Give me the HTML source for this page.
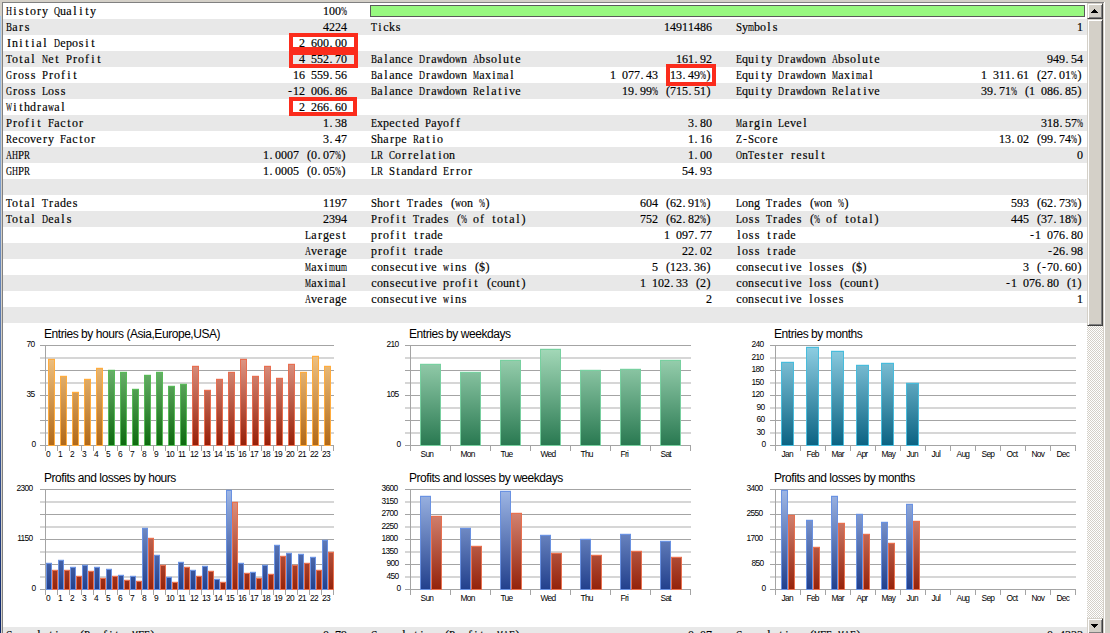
<!DOCTYPE html><html><head><meta charset="utf-8"><style>
*{margin:0;padding:0;box-sizing:border-box}
html,body{width:1110px;height:633px;overflow:hidden;background:#d4d0c8}
body{position:relative;font-family:"Liberation Sans",sans-serif}
#left{position:absolute;left:0;top:16px;width:1px;height:617px;background:linear-gradient(#a6caf0,#0a246a)}
#ftop{position:absolute;left:2px;top:2px;width:1102px;height:1px;background:#808080}
#fleft{position:absolute;left:2px;top:2px;width:1px;height:631px;background:#808080}
#fright{position:absolute;left:1104px;top:2px;width:1px;height:631px;background:#fff}
#content{position:absolute;left:3px;top:3px;width:1084px;height:630px;background:#fff;overflow:hidden}
.r{position:absolute;left:0;width:1084px;height:16px}
.t{position:absolute;top:0px;height:16px;line-height:16px;white-space:nowrap;font-family:"Liberation Serif",serif;font-size:12px;color:#000;-webkit-text-stroke:0.17px #000}
.t b{display:inline-block;width:6px;text-align:center;font-weight:normal;vertical-align:top;height:16px}
.t b.w{text-align:left;transform-origin:0 0}
.t b.rt{text-align:right}
.t b.lt{text-align:left;text-indent:0.5px}
.ch{position:absolute;left:0;top:0}
.ch text{font-family:"Liberation Sans",sans-serif;fill:#000}
.ch text.tt{letter-spacing:-0.45px}
.ch text.yl{letter-spacing:-0.7px}
#green{position:absolute;left:370px;top:5px;width:715px;height:12px;background:#98f880;border:1px solid #5a5a5a}
.box{position:absolute;border:4px solid #fb2c1c}
#sb{position:absolute;left:1087px;top:3px;width:16px;height:630px;background:repeating-conic-gradient(#d4d0c8 0 25%,#fff 0 50%) 0 1px/2px 2px}
.btn{position:absolute;left:0;width:16px;height:16px;background:#d4d0c8;border-top:1px solid #d4d0c8;border-left:1px solid #d4d0c8;border-right:1px solid #404040;border-bottom:1px solid #404040;box-shadow:inset 1px 1px 0 #fff,inset -1px -1px 0 #808080}
.t b.w0{text-align:left;transform-origin:0 0;transform:scaleX(0.692)}.t b.w1{text-align:left;transform-origin:0 0;transform:scaleX(0.6)}.t b.w2{text-align:left;transform-origin:0 0;transform:scaleX(0.749)}.t b.w3{text-align:left;transform-origin:0 0;transform:scaleX(0.817)}.t b.w4{text-align:left;transform-origin:0 0;transform:scaleX(0.897)}.t b.w5{text-align:left;transform-origin:0 0;transform:scaleX(0.642)}.t b.w6{text-align:left;transform-origin:0 0;transform:scaleX(0.562)}.t b.w7{text-align:left;transform-origin:0 0;transform:scaleX(0.53)}</style></head><body><div id="left"></div><div id="ftop"></div><div id="fleft"></div><div id="fright"></div><div id="content"><div class="r" style="top:0px;background:#fff"><span class="t" style="left:3px"><b class="w0">H</b><b>i</b><b>s</b><b>t</b><b>o</b><b>r</b><b>y</b><b></b><b class="w0">Q</b><b>u</b><b>a</b><b>l</b><b>i</b><b>t</b><b>y</b></span><span class="t" style="left:320px"><b>1</b><b>0</b><b>0</b><b class="w1">%</b></span></div><div class="r" style="top:16px;background:#e8e8e8"><span class="t" style="left:3px"><b class="w2">B</b><b>a</b><b>r</b><b>s</b></span><span class="t" style="left:320px"><b>4</b><b>2</b><b>2</b><b>4</b></span><span class="t" style="left:368px"><b class="w3">T</b><b>i</b><b>c</b><b>k</b><b>s</b></span><span class="t" style="left:661px"><b>1</b><b>4</b><b>9</b><b>1</b><b>1</b><b>4</b><b>8</b><b>6</b></span><span class="t" style="left:733px"><b class="w4">S</b><b>y</b><b class="w5">m</b><b>b</b><b>o</b><b>l</b><b>s</b></span><span class="t" style="left:1074px"><b>1</b></span></div><div class="r" style="top:32px;background:#fff"><span class="t" style="left:3px"><b>I</b><b>n</b><b>i</b><b>t</b><b>i</b><b>a</b><b>l</b><b></b><b class="w0">D</b><b>e</b><b>p</b><b>o</b><b>s</b><b>i</b><b>t</b></span><span class="t" style="left:296px"><b>2</b><b></b><b>6</b><b>0</b><b>0</b><b class="lt">.</b><b>0</b><b>0</b></span></div><div class="r" style="top:48px;background:#e8e8e8"><span class="t" style="left:3px"><b class="w3">T</b><b>o</b><b>t</b><b>a</b><b>l</b><b></b><b class="w0">N</b><b>e</b><b>t</b><b></b><b class="w4">P</b><b>r</b><b>o</b><b>f</b><b>i</b><b>t</b></span><span class="t" style="left:296px"><b>4</b><b></b><b>5</b><b>5</b><b>2</b><b class="lt">.</b><b>7</b><b>0</b></span><span class="t" style="left:368px"><b class="w2">B</b><b>a</b><b>l</b><b>a</b><b>n</b><b>c</b><b>e</b><b></b><b class="w0">D</b><b>r</b><b>a</b><b class="w0">w</b><b>d</b><b>o</b><b class="w0">w</b><b>n</b><b></b><b class="w0">A</b><b>b</b><b>s</b><b>o</b><b>l</b><b>u</b><b>t</b><b>e</b></span><span class="t" style="left:673px"><b>1</b><b>6</b><b>1</b><b class="lt">.</b><b>9</b><b>2</b></span><span class="t" style="left:733px"><b class="w3">E</b><b>q</b><b>u</b><b>i</b><b>t</b><b>y</b><b></b><b class="w0">D</b><b>r</b><b>a</b><b class="w0">w</b><b>d</b><b>o</b><b class="w0">w</b><b>n</b><b></b><b class="w0">A</b><b>b</b><b>s</b><b>o</b><b>l</b><b>u</b><b>t</b><b>e</b></span><span class="t" style="left:1044px"><b>9</b><b>4</b><b>9</b><b class="lt">.</b><b>5</b><b>4</b></span></div><div class="r" style="top:64px;background:#fff"><span class="t" style="left:3px"><b class="w0">G</b><b>r</b><b>o</b><b>s</b><b>s</b><b></b><b class="w4">P</b><b>r</b><b>o</b><b>f</b><b>i</b><b>t</b></span><span class="t" style="left:290px"><b>1</b><b>6</b><b></b><b>5</b><b>5</b><b>9</b><b class="lt">.</b><b>5</b><b>6</b></span><span class="t" style="left:368px"><b class="w2">B</b><b>a</b><b>l</b><b>a</b><b>n</b><b>c</b><b>e</b><b></b><b class="w0">D</b><b>r</b><b>a</b><b class="w0">w</b><b>d</b><b>o</b><b class="w0">w</b><b>n</b><b></b><b class="w6">M</b><b>a</b><b>x</b><b>i</b><b class="w5">m</b><b>a</b><b>l</b></span><span class="t" style="left:607px"><b>1</b><b></b><b>0</b><b>7</b><b>7</b><b class="lt">.</b><b>4</b><b>3</b><b></b><b class="rt">(</b><b>1</b><b>3</b><b class="lt">.</b><b>4</b><b>9</b><b class="w1">%</b><b class="lt">)</b></span><span class="t" style="left:733px"><b class="w3">E</b><b>q</b><b>u</b><b>i</b><b>t</b><b>y</b><b></b><b class="w0">D</b><b>r</b><b>a</b><b class="w0">w</b><b>d</b><b>o</b><b class="w0">w</b><b>n</b><b></b><b class="w6">M</b><b>a</b><b>x</b><b>i</b><b class="w5">m</b><b>a</b><b>l</b></span><span class="t" style="left:978px"><b>1</b><b></b><b>3</b><b>1</b><b>1</b><b class="lt">.</b><b>6</b><b>1</b><b></b><b class="rt">(</b><b>2</b><b>7</b><b class="lt">.</b><b>0</b><b>1</b><b class="w1">%</b><b class="lt">)</b></span></div><div class="r" style="top:80px;background:#e8e8e8"><span class="t" style="left:3px"><b class="w0">G</b><b>r</b><b>o</b><b>s</b><b>s</b><b></b><b class="w3">L</b><b>o</b><b>s</b><b>s</b></span><span class="t" style="left:284px"><b>-</b><b>1</b><b>2</b><b></b><b>0</b><b>0</b><b>6</b><b class="lt">.</b><b>8</b><b>6</b></span><span class="t" style="left:368px"><b class="w2">B</b><b>a</b><b>l</b><b>a</b><b>n</b><b>c</b><b>e</b><b></b><b class="w0">D</b><b>r</b><b>a</b><b class="w0">w</b><b>d</b><b>o</b><b class="w0">w</b><b>n</b><b></b><b class="w2">R</b><b>e</b><b>l</b><b>a</b><b>t</b><b>i</b><b>v</b><b>e</b></span><span class="t" style="left:619px"><b>1</b><b>9</b><b class="lt">.</b><b>9</b><b>9</b><b class="w1">%</b><b></b><b class="rt">(</b><b>7</b><b>1</b><b>5</b><b class="lt">.</b><b>5</b><b>1</b><b class="lt">)</b></span><span class="t" style="left:733px"><b class="w3">E</b><b>q</b><b>u</b><b>i</b><b>t</b><b>y</b><b></b><b class="w0">D</b><b>r</b><b>a</b><b class="w0">w</b><b>d</b><b>o</b><b class="w0">w</b><b>n</b><b></b><b class="w2">R</b><b>e</b><b>l</b><b>a</b><b>t</b><b>i</b><b>v</b><b>e</b></span><span class="t" style="left:978px"><b>3</b><b>9</b><b class="lt">.</b><b>7</b><b>1</b><b class="w1">%</b><b></b><b class="rt">(</b><b>1</b><b></b><b>0</b><b>8</b><b>6</b><b class="lt">.</b><b>8</b><b>5</b><b class="lt">)</b></span></div><div class="r" style="top:96px;background:#fff"><span class="t" style="left:3px"><b class="w7">W</b><b>i</b><b>t</b><b>h</b><b>d</b><b>r</b><b>a</b><b class="w0">w</b><b>a</b><b>l</b></span><span class="t" style="left:296px"><b>2</b><b></b><b>2</b><b>6</b><b>6</b><b class="lt">.</b><b>6</b><b>0</b></span></div><div class="r" style="top:112px;background:#e8e8e8"><span class="t" style="left:3px"><b class="w4">P</b><b>r</b><b>o</b><b>f</b><b>i</b><b>t</b><b></b><b class="w4">F</b><b>a</b><b>c</b><b>t</b><b>o</b><b>r</b></span><span class="t" style="left:320px"><b>1</b><b class="lt">.</b><b>3</b><b>8</b></span><span class="t" style="left:368px"><b class="w3">E</b><b>x</b><b>p</b><b>e</b><b>c</b><b>t</b><b>e</b><b>d</b><b></b><b class="w4">P</b><b>a</b><b>y</b><b>o</b><b>f</b><b>f</b></span><span class="t" style="left:685px"><b>3</b><b class="lt">.</b><b>8</b><b>0</b></span><span class="t" style="left:733px"><b class="w6">M</b><b>a</b><b>r</b><b>g</b><b>i</b><b>n</b><b></b><b class="w3">L</b><b>e</b><b>v</b><b>e</b><b>l</b></span><span class="t" style="left:1038px"><b>3</b><b>1</b><b>8</b><b class="lt">.</b><b>5</b><b>7</b><b class="w1">%</b></span></div><div class="r" style="top:128px;background:#fff"><span class="t" style="left:3px"><b class="w2">R</b><b>e</b><b>c</b><b>o</b><b>v</b><b>e</b><b>r</b><b>y</b><b></b><b class="w4">F</b><b>a</b><b>c</b><b>t</b><b>o</b><b>r</b></span><span class="t" style="left:320px"><b>3</b><b class="lt">.</b><b>4</b><b>7</b></span><span class="t" style="left:368px"><b class="w4">S</b><b>h</b><b>a</b><b>r</b><b>p</b><b>e</b><b></b><b class="w2">R</b><b>a</b><b>t</b><b>i</b><b>o</b></span><span class="t" style="left:685px"><b>1</b><b class="lt">.</b><b>1</b><b>6</b></span><span class="t" style="left:733px"><b class="w3">Z</b><b>-</b><b class="w4">S</b><b>c</b><b>o</b><b>r</b><b>e</b></span><span class="t" style="left:996px"><b>1</b><b>3</b><b class="lt">.</b><b>0</b><b>2</b><b></b><b class="rt">(</b><b>9</b><b>9</b><b class="lt">.</b><b>7</b><b>4</b><b class="w1">%</b><b class="lt">)</b></span></div><div class="r" style="top:144px;background:#e8e8e8"><span class="t" style="left:3px"><b class="w0">A</b><b class="w0">H</b><b class="w4">P</b><b class="w2">R</b></span><span class="t" style="left:260px"><b>1</b><b class="lt">.</b><b>0</b><b>0</b><b>0</b><b>7</b><b></b><b class="rt">(</b><b>0</b><b class="lt">.</b><b>0</b><b>7</b><b class="w1">%</b><b class="lt">)</b></span><span class="t" style="left:368px"><b class="w3">L</b><b class="w2">R</b><b></b><b class="w2">C</b><b>o</b><b>r</b><b>r</b><b>e</b><b>l</b><b>a</b><b>t</b><b>i</b><b>o</b><b>n</b></span><span class="t" style="left:685px"><b>1</b><b class="lt">.</b><b>0</b><b>0</b></span><span class="t" style="left:733px"><b class="w0">O</b><b>n</b><b class="w3">T</b><b>e</b><b>s</b><b>t</b><b>e</b><b>r</b><b></b><b>r</b><b>e</b><b>s</b><b>u</b><b>l</b><b>t</b></span><span class="t" style="left:1074px"><b>0</b></span></div><div class="r" style="top:160px;background:#fff"><span class="t" style="left:3px"><b class="w0">G</b><b class="w0">H</b><b class="w4">P</b><b class="w2">R</b></span><span class="t" style="left:260px"><b>1</b><b class="lt">.</b><b>0</b><b>0</b><b>0</b><b>5</b><b></b><b class="rt">(</b><b>0</b><b class="lt">.</b><b>0</b><b>5</b><b class="w1">%</b><b class="lt">)</b></span><span class="t" style="left:368px"><b class="w3">L</b><b class="w2">R</b><b></b><b class="w4">S</b><b>t</b><b>a</b><b>n</b><b>d</b><b>a</b><b>r</b><b>d</b><b></b><b class="w3">E</b><b>r</b><b>r</b><b>o</b><b>r</b></span><span class="t" style="left:679px"><b>5</b><b>4</b><b class="lt">.</b><b>9</b><b>3</b></span></div><div class="r" style="top:176px;background:#e8e8e8"></div><div class="r" style="top:192px;background:#fff"><span class="t" style="left:3px"><b class="w3">T</b><b>o</b><b>t</b><b>a</b><b>l</b><b></b><b class="w3">T</b><b>r</b><b>a</b><b>d</b><b>e</b><b>s</b></span><span class="t" style="left:320px"><b>1</b><b>1</b><b>9</b><b>7</b></span><span class="t" style="left:368px"><b class="w4">S</b><b>h</b><b>o</b><b>r</b><b>t</b><b></b><b class="w3">T</b><b>r</b><b>a</b><b>d</b><b>e</b><b>s</b><b></b><b class="rt">(</b><b class="w0">w</b><b>o</b><b>n</b><b></b><b class="w1">%</b><b class="lt">)</b></span><span class="t" style="left:637px"><b>6</b><b>0</b><b>4</b><b></b><b class="rt">(</b><b>6</b><b>2</b><b class="lt">.</b><b>9</b><b>1</b><b class="w1">%</b><b class="lt">)</b></span><span class="t" style="left:733px"><b class="w3">L</b><b>o</b><b>n</b><b>g</b><b></b><b class="w3">T</b><b>r</b><b>a</b><b>d</b><b>e</b><b>s</b><b></b><b class="rt">(</b><b class="w0">w</b><b>o</b><b>n</b><b></b><b class="w1">%</b><b class="lt">)</b></span><span class="t" style="left:1008px"><b>5</b><b>9</b><b>3</b><b></b><b class="rt">(</b><b>6</b><b>2</b><b class="lt">.</b><b>7</b><b>3</b><b class="w1">%</b><b class="lt">)</b></span></div><div class="r" style="top:208px;background:#e8e8e8"><span class="t" style="left:3px"><b class="w3">T</b><b>o</b><b>t</b><b>a</b><b>l</b><b></b><b class="w0">D</b><b>e</b><b>a</b><b>l</b><b>s</b></span><span class="t" style="left:320px"><b>2</b><b>3</b><b>9</b><b>4</b></span><span class="t" style="left:368px"><b class="w4">P</b><b>r</b><b>o</b><b>f</b><b>i</b><b>t</b><b></b><b class="w3">T</b><b>r</b><b>a</b><b>d</b><b>e</b><b>s</b><b></b><b class="rt">(</b><b class="w1">%</b><b></b><b>o</b><b>f</b><b></b><b>t</b><b>o</b><b>t</b><b>a</b><b>l</b><b class="lt">)</b></span><span class="t" style="left:637px"><b>7</b><b>5</b><b>2</b><b></b><b class="rt">(</b><b>6</b><b>2</b><b class="lt">.</b><b>8</b><b>2</b><b class="w1">%</b><b class="lt">)</b></span><span class="t" style="left:733px"><b class="w3">L</b><b>o</b><b>s</b><b>s</b><b></b><b class="w3">T</b><b>r</b><b>a</b><b>d</b><b>e</b><b>s</b><b></b><b class="rt">(</b><b class="w1">%</b><b></b><b>o</b><b>f</b><b></b><b>t</b><b>o</b><b>t</b><b>a</b><b>l</b><b class="lt">)</b></span><span class="t" style="left:1008px"><b>4</b><b>4</b><b>5</b><b></b><b class="rt">(</b><b>3</b><b>7</b><b class="lt">.</b><b>1</b><b>8</b><b class="w1">%</b><b class="lt">)</b></span></div><div class="r" style="top:224px;background:#fff"><span class="t" style="left:302px"><b class="w3">L</b><b>a</b><b>r</b><b>g</b><b>e</b><b>s</b><b>t</b></span><span class="t" style="left:368px"><b>p</b><b>r</b><b>o</b><b>f</b><b>i</b><b>t</b><b></b><b>t</b><b>r</b><b>a</b><b>d</b><b>e</b></span><span class="t" style="left:661px"><b>1</b><b></b><b>0</b><b>9</b><b>7</b><b class="lt">.</b><b>7</b><b>7</b></span><span class="t" style="left:733px"><b>l</b><b>o</b><b>s</b><b>s</b><b></b><b>t</b><b>r</b><b>a</b><b>d</b><b>e</b></span><span class="t" style="left:1026px"><b>-</b><b>1</b><b></b><b>0</b><b>7</b><b>6</b><b class="lt">.</b><b>8</b><b>0</b></span></div><div class="r" style="top:240px;background:#e8e8e8"><span class="t" style="left:302px"><b class="w0">A</b><b>v</b><b>e</b><b>r</b><b>a</b><b>g</b><b>e</b></span><span class="t" style="left:368px"><b>p</b><b>r</b><b>o</b><b>f</b><b>i</b><b>t</b><b></b><b>t</b><b>r</b><b>a</b><b>d</b><b>e</b></span><span class="t" style="left:679px"><b>2</b><b>2</b><b class="lt">.</b><b>0</b><b>2</b></span><span class="t" style="left:733px"><b>l</b><b>o</b><b>s</b><b>s</b><b></b><b>t</b><b>r</b><b>a</b><b>d</b><b>e</b></span><span class="t" style="left:1044px"><b>-</b><b>2</b><b>6</b><b class="lt">.</b><b>9</b><b>8</b></span></div><div class="r" style="top:256px;background:#fff"><span class="t" style="left:302px"><b class="w6">M</b><b>a</b><b>x</b><b>i</b><b class="w5">m</b><b>u</b><b class="w5">m</b></span><span class="t" style="left:368px"><b>c</b><b>o</b><b>n</b><b>s</b><b>e</b><b>c</b><b>u</b><b>t</b><b>i</b><b>v</b><b>e</b><b></b><b class="w0">w</b><b>i</b><b>n</b><b>s</b><b></b><b class="rt">(</b><b>$</b><b class="lt">)</b></span><span class="t" style="left:649px"><b>5</b><b></b><b class="rt">(</b><b>1</b><b>2</b><b>3</b><b class="lt">.</b><b>3</b><b>6</b><b class="lt">)</b></span><span class="t" style="left:733px"><b>c</b><b>o</b><b>n</b><b>s</b><b>e</b><b>c</b><b>u</b><b>t</b><b>i</b><b>v</b><b>e</b><b></b><b>l</b><b>o</b><b>s</b><b>s</b><b>e</b><b>s</b><b></b><b class="rt">(</b><b>$</b><b class="lt">)</b></span><span class="t" style="left:1020px"><b>3</b><b></b><b class="rt">(</b><b>-</b><b>7</b><b>0</b><b class="lt">.</b><b>6</b><b>0</b><b class="lt">)</b></span></div><div class="r" style="top:272px;background:#e8e8e8"><span class="t" style="left:302px"><b class="w6">M</b><b>a</b><b>x</b><b>i</b><b class="w5">m</b><b>a</b><b>l</b></span><span class="t" style="left:368px"><b>c</b><b>o</b><b>n</b><b>s</b><b>e</b><b>c</b><b>u</b><b>t</b><b>i</b><b>v</b><b>e</b><b></b><b>p</b><b>r</b><b>o</b><b>f</b><b>i</b><b>t</b><b></b><b class="rt">(</b><b>c</b><b>o</b><b>u</b><b>n</b><b>t</b><b class="lt">)</b></span><span class="t" style="left:637px"><b>1</b><b></b><b>1</b><b>0</b><b>2</b><b class="lt">.</b><b>3</b><b>3</b><b></b><b class="rt">(</b><b>2</b><b class="lt">)</b></span><span class="t" style="left:733px"><b>c</b><b>o</b><b>n</b><b>s</b><b>e</b><b>c</b><b>u</b><b>t</b><b>i</b><b>v</b><b>e</b><b></b><b>l</b><b>o</b><b>s</b><b>s</b><b></b><b class="rt">(</b><b>c</b><b>o</b><b>u</b><b>n</b><b>t</b><b class="lt">)</b></span><span class="t" style="left:1002px"><b>-</b><b>1</b><b></b><b>0</b><b>7</b><b>6</b><b class="lt">.</b><b>8</b><b>0</b><b></b><b class="rt">(</b><b>1</b><b class="lt">)</b></span></div><div class="r" style="top:288px;background:#fff"><span class="t" style="left:302px"><b class="w0">A</b><b>v</b><b>e</b><b>r</b><b>a</b><b>g</b><b>e</b></span><span class="t" style="left:368px"><b>c</b><b>o</b><b>n</b><b>s</b><b>e</b><b>c</b><b>u</b><b>t</b><b>i</b><b>v</b><b>e</b><b></b><b class="w0">w</b><b>i</b><b>n</b><b>s</b></span><span class="t" style="left:703px"><b>2</b></span><span class="t" style="left:733px"><b>c</b><b>o</b><b>n</b><b>s</b><b>e</b><b>c</b><b>u</b><b>t</b><b>i</b><b>v</b><b>e</b><b></b><b>l</b><b>o</b><b>s</b><b>s</b><b>e</b><b>s</b></span><span class="t" style="left:1074px"><b>1</b></span></div><div class="r" style="top:304px;background:#e8e8e8"></div><div class="r" style="top:624px;background:#e8e8e8"><span class="t" style="left:3px"><b class="w2">C</b><b>o</b><b>r</b><b>r</b><b>e</b><b>l</b><b>a</b><b>t</b><b>i</b><b>o</b><b>n</b><b></b><b class="rt">(</b><b class="w4">P</b><b>r</b><b>o</b><b>f</b><b>i</b><b>t</b><b>s</b><b class="lt">,</b><b class="w6">M</b><b class="w4">F</b><b class="w3">E</b><b class="lt">)</b></span><span class="t" style="left:320px"><b>0</b><b class="lt">.</b><b>7</b><b>9</b></span><span class="t" style="left:368px"><b class="w2">C</b><b>o</b><b>r</b><b>r</b><b>e</b><b>l</b><b>a</b><b>t</b><b>i</b><b>o</b><b>n</b><b></b><b class="rt">(</b><b class="w4">P</b><b>r</b><b>o</b><b>f</b><b>i</b><b>t</b><b>s</b><b class="lt">,</b><b class="w6">M</b><b class="w0">A</b><b class="w3">E</b><b class="lt">)</b></span><span class="t" style="left:685px"><b>0</b><b class="lt">.</b><b>0</b><b>7</b></span><span class="t" style="left:733px"><b class="w2">C</b><b>o</b><b>r</b><b>r</b><b>e</b><b>l</b><b>a</b><b>t</b><b>i</b><b>o</b><b>n</b><b></b><b class="rt">(</b><b class="w6">M</b><b class="w4">F</b><b class="w3">E</b><b class="lt">,</b><b class="w6">M</b><b class="w0">A</b><b class="w3">E</b><b class="lt">)</b></span><span class="t" style="left:1044px"><b>0</b><b class="lt">.</b><b>4</b><b>3</b><b>3</b><b>3</b></span></div></div><div id="green"></div><svg class="ch" width="1110" height="633" viewBox="0 0 1110 633"><defs><linearGradient id="gor345" gradientUnits="userSpaceOnUse" x1="0" y1="345" x2="0" y2="446"><stop offset="0" stop-color="#f6cc8e"/><stop offset="1" stop-color="#b06818"/></linearGradient><linearGradient id="ggr345" gradientUnits="userSpaceOnUse" x1="0" y1="345" x2="0" y2="446"><stop offset="0" stop-color="#88c688"/><stop offset="1" stop-color="#0c6a0e"/></linearGradient><linearGradient id="grd345" gradientUnits="userSpaceOnUse" x1="0" y1="345" x2="0" y2="446"><stop offset="0" stop-color="#e8a898"/><stop offset="1" stop-color="#961e06"/></linearGradient><linearGradient id="gwg345" gradientUnits="userSpaceOnUse" x1="0" y1="345" x2="0" y2="446"><stop offset="0" stop-color="#a8dcbc"/><stop offset="1" stop-color="#287850"/></linearGradient><linearGradient id="gtl345" gradientUnits="userSpaceOnUse" x1="0" y1="345" x2="0" y2="446"><stop offset="0" stop-color="#90d0e4"/><stop offset="1" stop-color="#0a6282"/></linearGradient><linearGradient id="gbl345" gradientUnits="userSpaceOnUse" x1="0" y1="345" x2="0" y2="446"><stop offset="0" stop-color="#a0b8e6"/><stop offset="1" stop-color="#213f8c"/></linearGradient><linearGradient id="glr345" gradientUnits="userSpaceOnUse" x1="0" y1="345" x2="0" y2="446"><stop offset="0" stop-color="#e6a090"/><stop offset="1" stop-color="#94220a"/></linearGradient><linearGradient id="gor489" gradientUnits="userSpaceOnUse" x1="0" y1="489" x2="0" y2="590"><stop offset="0" stop-color="#f6cc8e"/><stop offset="1" stop-color="#b06818"/></linearGradient><linearGradient id="ggr489" gradientUnits="userSpaceOnUse" x1="0" y1="489" x2="0" y2="590"><stop offset="0" stop-color="#88c688"/><stop offset="1" stop-color="#0c6a0e"/></linearGradient><linearGradient id="grd489" gradientUnits="userSpaceOnUse" x1="0" y1="489" x2="0" y2="590"><stop offset="0" stop-color="#e8a898"/><stop offset="1" stop-color="#961e06"/></linearGradient><linearGradient id="gwg489" gradientUnits="userSpaceOnUse" x1="0" y1="489" x2="0" y2="590"><stop offset="0" stop-color="#a8dcbc"/><stop offset="1" stop-color="#287850"/></linearGradient><linearGradient id="gtl489" gradientUnits="userSpaceOnUse" x1="0" y1="489" x2="0" y2="590"><stop offset="0" stop-color="#90d0e4"/><stop offset="1" stop-color="#0a6282"/></linearGradient><linearGradient id="gbl489" gradientUnits="userSpaceOnUse" x1="0" y1="489" x2="0" y2="590"><stop offset="0" stop-color="#a0b8e6"/><stop offset="1" stop-color="#213f8c"/></linearGradient><linearGradient id="glr489" gradientUnits="userSpaceOnUse" x1="0" y1="489" x2="0" y2="590"><stop offset="0" stop-color="#e6a090"/><stop offset="1" stop-color="#94220a"/></linearGradient></defs><text x="44" y="338" font-size="12" text-anchor="start" class="tt">Entries by hours (Asia,Europe,USA)</text><rect x="40" y="357" width="294" height="2" fill="#d6d6d6"/><rect x="40" y="382" width="294" height="2" fill="#d6d6d6"/><rect x="40" y="407" width="294" height="2" fill="#d6d6d6"/><rect x="40" y="432" width="294" height="2" fill="#d6d6d6"/><rect x="40" y="345" width="294" height="1" fill="#a4a4a4"/><rect x="40" y="370" width="294" height="1" fill="#a4a4a4"/><rect x="40" y="395" width="294" height="1" fill="#a4a4a4"/><rect x="40" y="420" width="294" height="1" fill="#a4a4a4"/><rect x="40" y="445" width="294" height="1" fill="#a4a4a4"/><rect x="45" y="345" width="1" height="106" fill="#a4a4a4"/><rect x="57" y="446" width="1" height="5" fill="#a4a4a4"/><rect x="69" y="446" width="1" height="5" fill="#a4a4a4"/><rect x="81" y="446" width="1" height="5" fill="#a4a4a4"/><rect x="93" y="446" width="1" height="5" fill="#a4a4a4"/><rect x="105" y="446" width="1" height="5" fill="#a4a4a4"/><rect x="117" y="446" width="1" height="5" fill="#a4a4a4"/><rect x="129" y="446" width="1" height="5" fill="#a4a4a4"/><rect x="141" y="446" width="1" height="5" fill="#a4a4a4"/><rect x="153" y="446" width="1" height="5" fill="#a4a4a4"/><rect x="165" y="446" width="1" height="5" fill="#a4a4a4"/><rect x="177" y="446" width="1" height="5" fill="#a4a4a4"/><rect x="189" y="446" width="1" height="5" fill="#a4a4a4"/><rect x="201" y="446" width="1" height="5" fill="#a4a4a4"/><rect x="213" y="446" width="1" height="5" fill="#a4a4a4"/><rect x="225" y="446" width="1" height="5" fill="#a4a4a4"/><rect x="237" y="446" width="1" height="5" fill="#a4a4a4"/><rect x="249" y="446" width="1" height="5" fill="#a4a4a4"/><rect x="261" y="446" width="1" height="5" fill="#a4a4a4"/><rect x="273" y="446" width="1" height="5" fill="#a4a4a4"/><rect x="285" y="446" width="1" height="5" fill="#a4a4a4"/><rect x="297" y="446" width="1" height="5" fill="#a4a4a4"/><rect x="309" y="446" width="1" height="5" fill="#a4a4a4"/><rect x="321" y="446" width="1" height="5" fill="#a4a4a4"/><rect x="333" y="446" width="1" height="5" fill="#a4a4a4"/><text x="34.4" y="347" font-size="8.4" text-anchor="end" class="yl">70</text><text x="34.4" y="397" font-size="8.4" text-anchor="end" class="yl">35</text><text x="35.4" y="447" font-size="8.4" text-anchor="end" class="yl">0</text><text x="46" y="457" font-size="8.4" text-anchor="start" class="yl">0</text><text x="58" y="457" font-size="8.4" text-anchor="start" class="yl">1</text><text x="70" y="457" font-size="8.4" text-anchor="start" class="yl">2</text><text x="82" y="457" font-size="8.4" text-anchor="start" class="yl">3</text><text x="94" y="457" font-size="8.4" text-anchor="start" class="yl">4</text><text x="106" y="457" font-size="8.4" text-anchor="start" class="yl">5</text><text x="118" y="457" font-size="8.4" text-anchor="start" class="yl">6</text><text x="130" y="457" font-size="8.4" text-anchor="start" class="yl">7</text><text x="142" y="457" font-size="8.4" text-anchor="start" class="yl">8</text><text x="154" y="457" font-size="8.4" text-anchor="start" class="yl">9</text><text x="166" y="457" font-size="8.4" text-anchor="start" class="yl">10</text><text x="178" y="457" font-size="8.4" text-anchor="start" class="yl">11</text><text x="190" y="457" font-size="8.4" text-anchor="start" class="yl">12</text><text x="202" y="457" font-size="8.4" text-anchor="start" class="yl">13</text><text x="214" y="457" font-size="8.4" text-anchor="start" class="yl">14</text><text x="226" y="457" font-size="8.4" text-anchor="start" class="yl">15</text><text x="238" y="457" font-size="8.4" text-anchor="start" class="yl">16</text><text x="250" y="457" font-size="8.4" text-anchor="start" class="yl">17</text><text x="262" y="457" font-size="8.4" text-anchor="start" class="yl">18</text><text x="274" y="457" font-size="8.4" text-anchor="start" class="yl">19</text><text x="286" y="457" font-size="8.4" text-anchor="start" class="yl">20</text><text x="298" y="457" font-size="8.4" text-anchor="start" class="yl">21</text><text x="310" y="457" font-size="8.4" text-anchor="start" class="yl">22</text><text x="322" y="457" font-size="8.4" text-anchor="start" class="yl">23</text><rect x="48" y="358" width="7" height="1" fill="#ffac3e" opacity="0.22"/><rect x="48" y="359" width="7" height="87" fill="#ffac3e"/><rect x="49" y="360" width="5" height="85" fill="url(#gor345)"/><rect x="60" y="375" width="7" height="1" fill="#ffac3e" opacity="0.22"/><rect x="60" y="376" width="7" height="70" fill="#ffac3e"/><rect x="61" y="377" width="5" height="68" fill="url(#gor345)"/><rect x="72" y="391" width="7" height="1" fill="#ffac3e" opacity="0.22"/><rect x="72" y="392" width="7" height="54" fill="#ffac3e"/><rect x="73" y="393" width="5" height="52" fill="url(#gor345)"/><rect x="84" y="378" width="7" height="1" fill="#ffac3e" opacity="0.22"/><rect x="84" y="379" width="7" height="67" fill="#ffac3e"/><rect x="85" y="380" width="5" height="65" fill="url(#gor345)"/><rect x="96" y="367" width="7" height="1" fill="#ffac3e" opacity="0.22"/><rect x="96" y="368" width="7" height="78" fill="#ffac3e"/><rect x="97" y="369" width="5" height="76" fill="url(#gor345)"/><rect x="108" y="369" width="7" height="1" fill="#58ba58" opacity="0.22"/><rect x="108" y="370" width="7" height="76" fill="#58ba58"/><rect x="109" y="371" width="5" height="74" fill="url(#ggr345)"/><rect x="120" y="371" width="7" height="1" fill="#58ba58" opacity="0.22"/><rect x="120" y="372" width="7" height="74" fill="#58ba58"/><rect x="121" y="373" width="5" height="72" fill="url(#ggr345)"/><rect x="132" y="388" width="7" height="1" fill="#58ba58" opacity="0.22"/><rect x="132" y="389" width="7" height="57" fill="#58ba58"/><rect x="133" y="390" width="5" height="55" fill="url(#ggr345)"/><rect x="144" y="374" width="7" height="1" fill="#58ba58" opacity="0.22"/><rect x="144" y="375" width="7" height="71" fill="#58ba58"/><rect x="145" y="376" width="5" height="69" fill="url(#ggr345)"/><rect x="156" y="371" width="7" height="1" fill="#58ba58" opacity="0.22"/><rect x="156" y="372" width="7" height="74" fill="#58ba58"/><rect x="157" y="373" width="5" height="72" fill="url(#ggr345)"/><rect x="168" y="385" width="7" height="1" fill="#58ba58" opacity="0.22"/><rect x="168" y="386" width="7" height="60" fill="#58ba58"/><rect x="169" y="387" width="5" height="58" fill="url(#ggr345)"/><rect x="180" y="383" width="7" height="1" fill="#58ba58" opacity="0.22"/><rect x="180" y="384" width="7" height="62" fill="#58ba58"/><rect x="181" y="385" width="5" height="60" fill="url(#ggr345)"/><rect x="192" y="365" width="7" height="1" fill="#e86e50" opacity="0.22"/><rect x="192" y="366" width="7" height="80" fill="#e86e50"/><rect x="193" y="367" width="5" height="78" fill="url(#grd345)"/><rect x="204" y="389" width="7" height="1" fill="#e86e50" opacity="0.22"/><rect x="204" y="390" width="7" height="56" fill="#e86e50"/><rect x="205" y="391" width="5" height="54" fill="url(#grd345)"/><rect x="216" y="378" width="7" height="1" fill="#e86e50" opacity="0.22"/><rect x="216" y="379" width="7" height="67" fill="#e86e50"/><rect x="217" y="380" width="5" height="65" fill="url(#grd345)"/><rect x="228" y="371" width="7" height="1" fill="#e86e50" opacity="0.22"/><rect x="228" y="372" width="7" height="74" fill="#e86e50"/><rect x="229" y="373" width="5" height="72" fill="url(#grd345)"/><rect x="240" y="358" width="7" height="1" fill="#e86e50" opacity="0.22"/><rect x="240" y="359" width="7" height="87" fill="#e86e50"/><rect x="241" y="360" width="5" height="85" fill="url(#grd345)"/><rect x="252" y="375" width="7" height="1" fill="#e86e50" opacity="0.22"/><rect x="252" y="376" width="7" height="70" fill="#e86e50"/><rect x="253" y="377" width="5" height="68" fill="url(#grd345)"/><rect x="264" y="365" width="7" height="1" fill="#e86e50" opacity="0.22"/><rect x="264" y="366" width="7" height="80" fill="#e86e50"/><rect x="265" y="367" width="5" height="78" fill="url(#grd345)"/><rect x="276" y="377" width="7" height="1" fill="#e86e50" opacity="0.22"/><rect x="276" y="378" width="7" height="68" fill="#e86e50"/><rect x="277" y="379" width="5" height="66" fill="url(#grd345)"/><rect x="288" y="363" width="7" height="1" fill="#e86e50" opacity="0.22"/><rect x="288" y="364" width="7" height="82" fill="#e86e50"/><rect x="289" y="365" width="5" height="80" fill="url(#grd345)"/><rect x="300" y="371" width="7" height="1" fill="#ffac3e" opacity="0.22"/><rect x="300" y="372" width="7" height="74" fill="#ffac3e"/><rect x="301" y="373" width="5" height="72" fill="url(#gor345)"/><rect x="312" y="355" width="7" height="1" fill="#ffac3e" opacity="0.22"/><rect x="312" y="356" width="7" height="90" fill="#ffac3e"/><rect x="313" y="357" width="5" height="88" fill="url(#gor345)"/><rect x="324" y="365" width="7" height="1" fill="#ffac3e" opacity="0.22"/><rect x="324" y="366" width="7" height="80" fill="#ffac3e"/><rect x="325" y="367" width="5" height="78" fill="url(#gor345)"/><text x="409" y="338" font-size="12" text-anchor="start" class="tt">Entries by weekdays</text><rect x="405" y="357" width="286" height="2" fill="#d6d6d6"/><rect x="405" y="382" width="286" height="2" fill="#d6d6d6"/><rect x="405" y="407" width="286" height="2" fill="#d6d6d6"/><rect x="405" y="432" width="286" height="2" fill="#d6d6d6"/><rect x="405" y="345" width="286" height="1" fill="#a4a4a4"/><rect x="405" y="370" width="286" height="1" fill="#a4a4a4"/><rect x="405" y="395" width="286" height="1" fill="#a4a4a4"/><rect x="405" y="420" width="286" height="1" fill="#a4a4a4"/><rect x="405" y="445" width="286" height="1" fill="#a4a4a4"/><rect x="410" y="345" width="1" height="106" fill="#a4a4a4"/><rect x="450" y="446" width="1" height="5" fill="#a4a4a4"/><rect x="490" y="446" width="1" height="5" fill="#a4a4a4"/><rect x="530" y="446" width="1" height="5" fill="#a4a4a4"/><rect x="570" y="446" width="1" height="5" fill="#a4a4a4"/><rect x="610" y="446" width="1" height="5" fill="#a4a4a4"/><rect x="650" y="446" width="1" height="5" fill="#a4a4a4"/><rect x="690" y="446" width="1" height="5" fill="#a4a4a4"/><text x="398.4" y="347" font-size="8.4" text-anchor="end" class="yl">210</text><text x="398.4" y="397" font-size="8.4" text-anchor="end" class="yl">105</text><text x="400.4" y="447" font-size="8.4" text-anchor="end" class="yl">0</text><text x="420.5" y="457" font-size="8.4" text-anchor="start" class="yl">Sun</text><text x="460.5" y="457" font-size="8.4" text-anchor="start" class="yl">Mon</text><text x="500.5" y="457" font-size="8.4" text-anchor="start" class="yl">Tue</text><text x="540.5" y="457" font-size="8.4" text-anchor="start" class="yl">Wed</text><text x="580.5" y="457" font-size="8.4" text-anchor="start" class="yl">Thu</text><text x="620.5" y="457" font-size="8.4" text-anchor="start" class="yl">Fri</text><text x="660.5" y="457" font-size="8.4" text-anchor="start" class="yl">Sat</text><rect x="420" y="363" width="21" height="1" fill="#78d0a0" opacity="0.22"/><rect x="420" y="364" width="21" height="82" fill="#78d0a0"/><rect x="421" y="365" width="19" height="80" fill="url(#gwg345)"/><rect x="460" y="371" width="21" height="1" fill="#78d0a0" opacity="0.22"/><rect x="460" y="372" width="21" height="74" fill="#78d0a0"/><rect x="461" y="373" width="19" height="72" fill="url(#gwg345)"/><rect x="500" y="359" width="21" height="1" fill="#78d0a0" opacity="0.22"/><rect x="500" y="360" width="21" height="86" fill="#78d0a0"/><rect x="501" y="361" width="19" height="84" fill="url(#gwg345)"/><rect x="540" y="348" width="21" height="1" fill="#78d0a0" opacity="0.22"/><rect x="540" y="349" width="21" height="97" fill="#78d0a0"/><rect x="541" y="350" width="19" height="95" fill="url(#gwg345)"/><rect x="580" y="369" width="21" height="1" fill="#78d0a0" opacity="0.22"/><rect x="580" y="370" width="21" height="76" fill="#78d0a0"/><rect x="581" y="371" width="19" height="74" fill="url(#gwg345)"/><rect x="620" y="368" width="21" height="1" fill="#78d0a0" opacity="0.22"/><rect x="620" y="369" width="21" height="77" fill="#78d0a0"/><rect x="621" y="370" width="19" height="75" fill="url(#gwg345)"/><rect x="660" y="359" width="21" height="1" fill="#78d0a0" opacity="0.22"/><rect x="660" y="360" width="21" height="86" fill="#78d0a0"/><rect x="661" y="361" width="19" height="84" fill="url(#gwg345)"/><text x="774" y="338" font-size="12" text-anchor="start" class="tt">Entries by months</text><rect x="770" y="357" width="306" height="2" fill="#d6d6d6"/><rect x="770" y="382" width="306" height="2" fill="#d6d6d6"/><rect x="770" y="407" width="306" height="2" fill="#d6d6d6"/><rect x="770" y="432" width="306" height="2" fill="#d6d6d6"/><rect x="770" y="345" width="306" height="1" fill="#a4a4a4"/><rect x="770" y="370" width="306" height="1" fill="#a4a4a4"/><rect x="770" y="395" width="306" height="1" fill="#a4a4a4"/><rect x="770" y="420" width="306" height="1" fill="#a4a4a4"/><rect x="770" y="445" width="306" height="1" fill="#a4a4a4"/><rect x="775" y="345" width="1" height="106" fill="#a4a4a4"/><rect x="800" y="446" width="1" height="5" fill="#a4a4a4"/><rect x="825" y="446" width="1" height="5" fill="#a4a4a4"/><rect x="850" y="446" width="1" height="5" fill="#a4a4a4"/><rect x="875" y="446" width="1" height="5" fill="#a4a4a4"/><rect x="900" y="446" width="1" height="5" fill="#a4a4a4"/><rect x="925" y="446" width="1" height="5" fill="#a4a4a4"/><rect x="950" y="446" width="1" height="5" fill="#a4a4a4"/><rect x="975" y="446" width="1" height="5" fill="#a4a4a4"/><rect x="1000" y="446" width="1" height="5" fill="#a4a4a4"/><rect x="1025" y="446" width="1" height="5" fill="#a4a4a4"/><rect x="1050" y="446" width="1" height="5" fill="#a4a4a4"/><rect x="1075" y="446" width="1" height="5" fill="#a4a4a4"/><text x="763.4" y="347.0" font-size="8.4" text-anchor="end" class="yl">240</text><text x="763.4" y="359.5" font-size="8.4" text-anchor="end" class="yl">210</text><text x="763.4" y="372.0" font-size="8.4" text-anchor="end" class="yl">180</text><text x="763.4" y="384.5" font-size="8.4" text-anchor="end" class="yl">150</text><text x="763.4" y="397.0" font-size="8.4" text-anchor="end" class="yl">120</text><text x="764.4" y="409.5" font-size="8.4" text-anchor="end" class="yl">90</text><text x="764.4" y="422.0" font-size="8.4" text-anchor="end" class="yl">60</text><text x="764.4" y="434.5" font-size="8.4" text-anchor="end" class="yl">30</text><text x="765.4" y="447.0" font-size="8.4" text-anchor="end" class="yl">0</text><text x="781.5" y="457" font-size="8.4" text-anchor="start" class="yl">Jan</text><text x="806.5" y="457" font-size="8.4" text-anchor="start" class="yl">Feb</text><text x="831.5" y="457" font-size="8.4" text-anchor="start" class="yl">Mar</text><text x="856.5" y="457" font-size="8.4" text-anchor="start" class="yl">Apr</text><text x="881.5" y="457" font-size="8.4" text-anchor="start" class="yl">May</text><text x="906.5" y="457" font-size="8.4" text-anchor="start" class="yl">Jun</text><text x="931.5" y="457" font-size="8.4" text-anchor="start" class="yl">Jul</text><text x="956.5" y="457" font-size="8.4" text-anchor="start" class="yl">Aug</text><text x="981.5" y="457" font-size="8.4" text-anchor="start" class="yl">Sep</text><text x="1006.5" y="457" font-size="8.4" text-anchor="start" class="yl">Oct</text><text x="1031.5" y="457" font-size="8.4" text-anchor="start" class="yl">Nov</text><text x="1056.5" y="457" font-size="8.4" text-anchor="start" class="yl">Dec</text><rect x="781" y="361" width="13" height="1" fill="#48bcdc" opacity="0.22"/><rect x="781" y="362" width="13" height="84" fill="#48bcdc"/><rect x="782" y="363" width="11" height="82" fill="url(#gtl345)"/><rect x="806" y="346" width="13" height="1" fill="#48bcdc" opacity="0.22"/><rect x="806" y="347" width="13" height="99" fill="#48bcdc"/><rect x="807" y="348" width="11" height="97" fill="url(#gtl345)"/><rect x="831" y="350" width="13" height="1" fill="#48bcdc" opacity="0.22"/><rect x="831" y="351" width="13" height="95" fill="#48bcdc"/><rect x="832" y="352" width="11" height="93" fill="url(#gtl345)"/><rect x="856" y="364" width="13" height="1" fill="#48bcdc" opacity="0.22"/><rect x="856" y="365" width="13" height="81" fill="#48bcdc"/><rect x="857" y="366" width="11" height="79" fill="url(#gtl345)"/><rect x="881" y="362" width="13" height="1" fill="#48bcdc" opacity="0.22"/><rect x="881" y="363" width="13" height="83" fill="#48bcdc"/><rect x="882" y="364" width="11" height="81" fill="url(#gtl345)"/><rect x="906" y="382" width="13" height="1" fill="#48bcdc" opacity="0.22"/><rect x="906" y="383" width="13" height="63" fill="#48bcdc"/><rect x="907" y="384" width="11" height="61" fill="url(#gtl345)"/><text x="44" y="482" font-size="12" text-anchor="start" class="tt">Profits and losses by hours</text><rect x="40" y="501" width="294" height="2" fill="#d6d6d6"/><rect x="40" y="526" width="294" height="2" fill="#d6d6d6"/><rect x="40" y="551" width="294" height="2" fill="#d6d6d6"/><rect x="40" y="576" width="294" height="2" fill="#d6d6d6"/><rect x="40" y="489" width="294" height="1" fill="#a4a4a4"/><rect x="40" y="514" width="294" height="1" fill="#a4a4a4"/><rect x="40" y="539" width="294" height="1" fill="#a4a4a4"/><rect x="40" y="564" width="294" height="1" fill="#a4a4a4"/><rect x="40" y="589" width="294" height="1" fill="#a4a4a4"/><rect x="45" y="489" width="1" height="106" fill="#a4a4a4"/><rect x="57" y="590" width="1" height="5" fill="#a4a4a4"/><rect x="69" y="590" width="1" height="5" fill="#a4a4a4"/><rect x="81" y="590" width="1" height="5" fill="#a4a4a4"/><rect x="93" y="590" width="1" height="5" fill="#a4a4a4"/><rect x="105" y="590" width="1" height="5" fill="#a4a4a4"/><rect x="117" y="590" width="1" height="5" fill="#a4a4a4"/><rect x="129" y="590" width="1" height="5" fill="#a4a4a4"/><rect x="141" y="590" width="1" height="5" fill="#a4a4a4"/><rect x="153" y="590" width="1" height="5" fill="#a4a4a4"/><rect x="165" y="590" width="1" height="5" fill="#a4a4a4"/><rect x="177" y="590" width="1" height="5" fill="#a4a4a4"/><rect x="189" y="590" width="1" height="5" fill="#a4a4a4"/><rect x="201" y="590" width="1" height="5" fill="#a4a4a4"/><rect x="213" y="590" width="1" height="5" fill="#a4a4a4"/><rect x="225" y="590" width="1" height="5" fill="#a4a4a4"/><rect x="237" y="590" width="1" height="5" fill="#a4a4a4"/><rect x="249" y="590" width="1" height="5" fill="#a4a4a4"/><rect x="261" y="590" width="1" height="5" fill="#a4a4a4"/><rect x="273" y="590" width="1" height="5" fill="#a4a4a4"/><rect x="285" y="590" width="1" height="5" fill="#a4a4a4"/><rect x="297" y="590" width="1" height="5" fill="#a4a4a4"/><rect x="309" y="590" width="1" height="5" fill="#a4a4a4"/><rect x="321" y="590" width="1" height="5" fill="#a4a4a4"/><rect x="333" y="590" width="1" height="5" fill="#a4a4a4"/><text x="32.4" y="491" font-size="8.4" text-anchor="end" class="yl">2300</text><text x="32.4" y="541" font-size="8.4" text-anchor="end" class="yl">1150</text><text x="35.4" y="591" font-size="8.4" text-anchor="end" class="yl">0</text><text x="46" y="601" font-size="8.4" text-anchor="start" class="yl">0</text><text x="58" y="601" font-size="8.4" text-anchor="start" class="yl">1</text><text x="70" y="601" font-size="8.4" text-anchor="start" class="yl">2</text><text x="82" y="601" font-size="8.4" text-anchor="start" class="yl">3</text><text x="94" y="601" font-size="8.4" text-anchor="start" class="yl">4</text><text x="106" y="601" font-size="8.4" text-anchor="start" class="yl">5</text><text x="118" y="601" font-size="8.4" text-anchor="start" class="yl">6</text><text x="130" y="601" font-size="8.4" text-anchor="start" class="yl">7</text><text x="142" y="601" font-size="8.4" text-anchor="start" class="yl">8</text><text x="154" y="601" font-size="8.4" text-anchor="start" class="yl">9</text><text x="166" y="601" font-size="8.4" text-anchor="start" class="yl">10</text><text x="178" y="601" font-size="8.4" text-anchor="start" class="yl">11</text><text x="190" y="601" font-size="8.4" text-anchor="start" class="yl">12</text><text x="202" y="601" font-size="8.4" text-anchor="start" class="yl">13</text><text x="214" y="601" font-size="8.4" text-anchor="start" class="yl">14</text><text x="226" y="601" font-size="8.4" text-anchor="start" class="yl">15</text><text x="238" y="601" font-size="8.4" text-anchor="start" class="yl">16</text><text x="250" y="601" font-size="8.4" text-anchor="start" class="yl">17</text><text x="262" y="601" font-size="8.4" text-anchor="start" class="yl">18</text><text x="274" y="601" font-size="8.4" text-anchor="start" class="yl">19</text><text x="286" y="601" font-size="8.4" text-anchor="start" class="yl">20</text><text x="298" y="601" font-size="8.4" text-anchor="start" class="yl">21</text><text x="310" y="601" font-size="8.4" text-anchor="start" class="yl">22</text><text x="322" y="601" font-size="8.4" text-anchor="start" class="yl">23</text><rect x="46" y="562" width="6" height="1" fill="#6a92e2" opacity="0.22"/><rect x="46" y="563" width="6" height="27" fill="#6a92e2"/><rect x="47" y="564" width="4" height="25" fill="url(#gbl489)"/><rect x="58" y="559" width="6" height="1" fill="#6a92e2" opacity="0.22"/><rect x="58" y="560" width="6" height="30" fill="#6a92e2"/><rect x="59" y="561" width="4" height="28" fill="url(#gbl489)"/><rect x="70" y="566" width="6" height="1" fill="#6a92e2" opacity="0.22"/><rect x="70" y="567" width="6" height="23" fill="#6a92e2"/><rect x="71" y="568" width="4" height="21" fill="url(#gbl489)"/><rect x="82" y="564" width="6" height="1" fill="#6a92e2" opacity="0.22"/><rect x="82" y="565" width="6" height="25" fill="#6a92e2"/><rect x="83" y="566" width="4" height="23" fill="url(#gbl489)"/><rect x="94" y="566" width="6" height="1" fill="#6a92e2" opacity="0.22"/><rect x="94" y="567" width="6" height="23" fill="#6a92e2"/><rect x="95" y="568" width="4" height="21" fill="url(#gbl489)"/><rect x="106" y="568" width="6" height="1" fill="#6a92e2" opacity="0.22"/><rect x="106" y="569" width="6" height="21" fill="#6a92e2"/><rect x="107" y="570" width="4" height="19" fill="url(#gbl489)"/><rect x="118" y="574" width="6" height="1" fill="#6a92e2" opacity="0.22"/><rect x="118" y="575" width="6" height="15" fill="#6a92e2"/><rect x="119" y="576" width="4" height="13" fill="url(#gbl489)"/><rect x="130" y="575" width="6" height="1" fill="#6a92e2" opacity="0.22"/><rect x="130" y="576" width="6" height="14" fill="#6a92e2"/><rect x="131" y="577" width="4" height="12" fill="url(#gbl489)"/><rect x="142" y="527" width="6" height="1" fill="#6a92e2" opacity="0.22"/><rect x="142" y="528" width="6" height="62" fill="#6a92e2"/><rect x="143" y="529" width="4" height="60" fill="url(#gbl489)"/><rect x="154" y="554" width="6" height="1" fill="#6a92e2" opacity="0.22"/><rect x="154" y="555" width="6" height="35" fill="#6a92e2"/><rect x="155" y="556" width="4" height="33" fill="url(#gbl489)"/><rect x="166" y="576" width="6" height="1" fill="#6a92e2" opacity="0.22"/><rect x="166" y="577" width="6" height="13" fill="#6a92e2"/><rect x="167" y="578" width="4" height="11" fill="url(#gbl489)"/><rect x="178" y="561" width="6" height="1" fill="#6a92e2" opacity="0.22"/><rect x="178" y="562" width="6" height="28" fill="#6a92e2"/><rect x="179" y="563" width="4" height="26" fill="url(#gbl489)"/><rect x="190" y="569" width="6" height="1" fill="#6a92e2" opacity="0.22"/><rect x="190" y="570" width="6" height="20" fill="#6a92e2"/><rect x="191" y="571" width="4" height="18" fill="url(#gbl489)"/><rect x="202" y="565" width="6" height="1" fill="#6a92e2" opacity="0.22"/><rect x="202" y="566" width="6" height="24" fill="#6a92e2"/><rect x="203" y="567" width="4" height="22" fill="url(#gbl489)"/><rect x="214" y="578" width="6" height="1" fill="#6a92e2" opacity="0.22"/><rect x="214" y="579" width="6" height="11" fill="#6a92e2"/><rect x="215" y="580" width="4" height="9" fill="url(#gbl489)"/><rect x="226" y="489" width="6" height="1" fill="#6a92e2" opacity="0.22"/><rect x="226" y="490" width="6" height="100" fill="#6a92e2"/><rect x="227" y="491" width="4" height="98" fill="url(#gbl489)"/><rect x="238" y="562" width="6" height="1" fill="#6a92e2" opacity="0.22"/><rect x="238" y="563" width="6" height="27" fill="#6a92e2"/><rect x="239" y="564" width="4" height="25" fill="url(#gbl489)"/><rect x="250" y="571" width="6" height="1" fill="#6a92e2" opacity="0.22"/><rect x="250" y="572" width="6" height="18" fill="#6a92e2"/><rect x="251" y="573" width="4" height="16" fill="url(#gbl489)"/><rect x="262" y="564" width="6" height="1" fill="#6a92e2" opacity="0.22"/><rect x="262" y="565" width="6" height="25" fill="#6a92e2"/><rect x="263" y="566" width="4" height="23" fill="url(#gbl489)"/><rect x="274" y="544" width="6" height="1" fill="#6a92e2" opacity="0.22"/><rect x="274" y="545" width="6" height="45" fill="#6a92e2"/><rect x="275" y="546" width="4" height="43" fill="url(#gbl489)"/><rect x="286" y="552" width="6" height="1" fill="#6a92e2" opacity="0.22"/><rect x="286" y="553" width="6" height="37" fill="#6a92e2"/><rect x="287" y="554" width="4" height="35" fill="url(#gbl489)"/><rect x="298" y="553" width="6" height="1" fill="#6a92e2" opacity="0.22"/><rect x="298" y="554" width="6" height="36" fill="#6a92e2"/><rect x="299" y="555" width="4" height="34" fill="url(#gbl489)"/><rect x="310" y="556" width="6" height="1" fill="#6a92e2" opacity="0.22"/><rect x="310" y="557" width="6" height="33" fill="#6a92e2"/><rect x="311" y="558" width="4" height="31" fill="url(#gbl489)"/><rect x="322" y="539" width="6" height="1" fill="#6a92e2" opacity="0.22"/><rect x="322" y="540" width="6" height="50" fill="#6a92e2"/><rect x="323" y="541" width="4" height="48" fill="url(#gbl489)"/><rect x="52" y="569" width="6" height="1" fill="#e8704f" opacity="0.22"/><rect x="52" y="570" width="6" height="20" fill="#e8704f"/><rect x="53" y="571" width="4" height="18" fill="url(#glr489)"/><rect x="64" y="569" width="6" height="1" fill="#e8704f" opacity="0.22"/><rect x="64" y="570" width="6" height="20" fill="#e8704f"/><rect x="65" y="571" width="4" height="18" fill="url(#glr489)"/><rect x="76" y="575" width="6" height="1" fill="#e8704f" opacity="0.22"/><rect x="76" y="576" width="6" height="14" fill="#e8704f"/><rect x="77" y="577" width="4" height="12" fill="url(#glr489)"/><rect x="88" y="570" width="6" height="1" fill="#e8704f" opacity="0.22"/><rect x="88" y="571" width="6" height="19" fill="#e8704f"/><rect x="89" y="572" width="4" height="17" fill="url(#glr489)"/><rect x="100" y="577" width="6" height="1" fill="#e8704f" opacity="0.22"/><rect x="100" y="578" width="6" height="12" fill="#e8704f"/><rect x="101" y="579" width="4" height="10" fill="url(#glr489)"/><rect x="112" y="575" width="6" height="1" fill="#e8704f" opacity="0.22"/><rect x="112" y="576" width="6" height="14" fill="#e8704f"/><rect x="113" y="577" width="4" height="12" fill="url(#glr489)"/><rect x="124" y="579" width="6" height="1" fill="#e8704f" opacity="0.22"/><rect x="124" y="580" width="6" height="10" fill="#e8704f"/><rect x="125" y="581" width="4" height="8" fill="url(#glr489)"/><rect x="136" y="580" width="6" height="1" fill="#e8704f" opacity="0.22"/><rect x="136" y="581" width="6" height="9" fill="#e8704f"/><rect x="137" y="582" width="4" height="7" fill="url(#glr489)"/><rect x="148" y="537" width="6" height="1" fill="#e8704f" opacity="0.22"/><rect x="148" y="538" width="6" height="52" fill="#e8704f"/><rect x="149" y="539" width="4" height="50" fill="url(#glr489)"/><rect x="160" y="564" width="6" height="1" fill="#e8704f" opacity="0.22"/><rect x="160" y="565" width="6" height="25" fill="#e8704f"/><rect x="161" y="566" width="4" height="23" fill="url(#glr489)"/><rect x="172" y="581" width="6" height="1" fill="#e8704f" opacity="0.22"/><rect x="172" y="582" width="6" height="8" fill="#e8704f"/><rect x="173" y="583" width="4" height="6" fill="url(#glr489)"/><rect x="184" y="566" width="6" height="1" fill="#e8704f" opacity="0.22"/><rect x="184" y="567" width="6" height="23" fill="#e8704f"/><rect x="185" y="568" width="4" height="21" fill="url(#glr489)"/><rect x="196" y="575" width="6" height="1" fill="#e8704f" opacity="0.22"/><rect x="196" y="576" width="6" height="14" fill="#e8704f"/><rect x="197" y="577" width="4" height="12" fill="url(#glr489)"/><rect x="208" y="570" width="6" height="1" fill="#e8704f" opacity="0.22"/><rect x="208" y="571" width="6" height="19" fill="#e8704f"/><rect x="209" y="572" width="4" height="17" fill="url(#glr489)"/><rect x="220" y="581" width="6" height="1" fill="#e8704f" opacity="0.22"/><rect x="220" y="582" width="6" height="8" fill="#e8704f"/><rect x="221" y="583" width="4" height="6" fill="url(#glr489)"/><rect x="232" y="501" width="6" height="1" fill="#e8704f" opacity="0.22"/><rect x="232" y="502" width="6" height="88" fill="#e8704f"/><rect x="233" y="503" width="4" height="86" fill="url(#glr489)"/><rect x="244" y="572" width="6" height="1" fill="#e8704f" opacity="0.22"/><rect x="244" y="573" width="6" height="17" fill="#e8704f"/><rect x="245" y="574" width="4" height="15" fill="url(#glr489)"/><rect x="256" y="577" width="6" height="1" fill="#e8704f" opacity="0.22"/><rect x="256" y="578" width="6" height="12" fill="#e8704f"/><rect x="257" y="579" width="4" height="10" fill="url(#glr489)"/><rect x="268" y="573" width="6" height="1" fill="#e8704f" opacity="0.22"/><rect x="268" y="574" width="6" height="16" fill="#e8704f"/><rect x="269" y="575" width="4" height="14" fill="url(#glr489)"/><rect x="280" y="555" width="6" height="1" fill="#e8704f" opacity="0.22"/><rect x="280" y="556" width="6" height="34" fill="#e8704f"/><rect x="281" y="557" width="4" height="32" fill="url(#glr489)"/><rect x="292" y="564" width="6" height="1" fill="#e8704f" opacity="0.22"/><rect x="292" y="565" width="6" height="25" fill="#e8704f"/><rect x="293" y="566" width="4" height="23" fill="url(#glr489)"/><rect x="304" y="562" width="6" height="1" fill="#e8704f" opacity="0.22"/><rect x="304" y="563" width="6" height="27" fill="#e8704f"/><rect x="305" y="564" width="4" height="25" fill="url(#glr489)"/><rect x="316" y="569" width="6" height="1" fill="#e8704f" opacity="0.22"/><rect x="316" y="570" width="6" height="20" fill="#e8704f"/><rect x="317" y="571" width="4" height="18" fill="url(#glr489)"/><rect x="328" y="551" width="6" height="1" fill="#e8704f" opacity="0.22"/><rect x="328" y="552" width="6" height="38" fill="#e8704f"/><rect x="329" y="553" width="4" height="36" fill="url(#glr489)"/><text x="409" y="482" font-size="12" text-anchor="start" class="tt">Profits and losses by weekdays</text><rect x="405" y="501" width="286" height="2" fill="#d6d6d6"/><rect x="405" y="526" width="286" height="2" fill="#d6d6d6"/><rect x="405" y="551" width="286" height="2" fill="#d6d6d6"/><rect x="405" y="576" width="286" height="2" fill="#d6d6d6"/><rect x="405" y="489" width="286" height="1" fill="#a4a4a4"/><rect x="405" y="514" width="286" height="1" fill="#a4a4a4"/><rect x="405" y="539" width="286" height="1" fill="#a4a4a4"/><rect x="405" y="564" width="286" height="1" fill="#a4a4a4"/><rect x="405" y="589" width="286" height="1" fill="#a4a4a4"/><rect x="410" y="489" width="1" height="106" fill="#a4a4a4"/><rect x="450" y="590" width="1" height="5" fill="#a4a4a4"/><rect x="490" y="590" width="1" height="5" fill="#a4a4a4"/><rect x="530" y="590" width="1" height="5" fill="#a4a4a4"/><rect x="570" y="590" width="1" height="5" fill="#a4a4a4"/><rect x="610" y="590" width="1" height="5" fill="#a4a4a4"/><rect x="650" y="590" width="1" height="5" fill="#a4a4a4"/><rect x="690" y="590" width="1" height="5" fill="#a4a4a4"/><text x="397.4" y="491.0" font-size="8.4" text-anchor="end" class="yl">3600</text><text x="397.4" y="503.5" font-size="8.4" text-anchor="end" class="yl">3150</text><text x="397.4" y="516.0" font-size="8.4" text-anchor="end" class="yl">2700</text><text x="397.4" y="528.5" font-size="8.4" text-anchor="end" class="yl">2250</text><text x="397.4" y="541.0" font-size="8.4" text-anchor="end" class="yl">1800</text><text x="397.4" y="553.5" font-size="8.4" text-anchor="end" class="yl">1350</text><text x="398.4" y="566.0" font-size="8.4" text-anchor="end" class="yl">900</text><text x="398.4" y="578.5" font-size="8.4" text-anchor="end" class="yl">450</text><text x="400.4" y="591.0" font-size="8.4" text-anchor="end" class="yl">0</text><text x="420.5" y="601" font-size="8.4" text-anchor="start" class="yl">Sun</text><text x="460.5" y="601" font-size="8.4" text-anchor="start" class="yl">Mon</text><text x="500.5" y="601" font-size="8.4" text-anchor="start" class="yl">Tue</text><text x="540.5" y="601" font-size="8.4" text-anchor="start" class="yl">Wed</text><text x="580.5" y="601" font-size="8.4" text-anchor="start" class="yl">Thu</text><text x="620.5" y="601" font-size="8.4" text-anchor="start" class="yl">Fri</text><text x="660.5" y="601" font-size="8.4" text-anchor="start" class="yl">Sat</text><rect x="420" y="495" width="11" height="1" fill="#6a92e2" opacity="0.22"/><rect x="420" y="496" width="11" height="94" fill="#6a92e2"/><rect x="421" y="497" width="9" height="92" fill="url(#gbl489)"/><rect x="460" y="527" width="11" height="1" fill="#6a92e2" opacity="0.22"/><rect x="460" y="528" width="11" height="62" fill="#6a92e2"/><rect x="461" y="529" width="9" height="60" fill="url(#gbl489)"/><rect x="500" y="490" width="11" height="1" fill="#6a92e2" opacity="0.22"/><rect x="500" y="491" width="11" height="99" fill="#6a92e2"/><rect x="501" y="492" width="9" height="97" fill="url(#gbl489)"/><rect x="540" y="534" width="11" height="1" fill="#6a92e2" opacity="0.22"/><rect x="540" y="535" width="11" height="55" fill="#6a92e2"/><rect x="541" y="536" width="9" height="53" fill="url(#gbl489)"/><rect x="580" y="538" width="11" height="1" fill="#6a92e2" opacity="0.22"/><rect x="580" y="539" width="11" height="51" fill="#6a92e2"/><rect x="581" y="540" width="9" height="49" fill="url(#gbl489)"/><rect x="620" y="533" width="11" height="1" fill="#6a92e2" opacity="0.22"/><rect x="620" y="534" width="11" height="56" fill="#6a92e2"/><rect x="621" y="535" width="9" height="54" fill="url(#gbl489)"/><rect x="660" y="540" width="11" height="1" fill="#6a92e2" opacity="0.22"/><rect x="660" y="541" width="11" height="49" fill="#6a92e2"/><rect x="661" y="542" width="9" height="47" fill="url(#gbl489)"/><rect x="431" y="515" width="11" height="1" fill="#e8704f" opacity="0.22"/><rect x="431" y="516" width="11" height="74" fill="#e8704f"/><rect x="432" y="517" width="9" height="72" fill="url(#glr489)"/><rect x="471" y="545" width="11" height="1" fill="#e8704f" opacity="0.22"/><rect x="471" y="546" width="11" height="44" fill="#e8704f"/><rect x="472" y="547" width="9" height="42" fill="url(#glr489)"/><rect x="511" y="512" width="11" height="1" fill="#e8704f" opacity="0.22"/><rect x="511" y="513" width="11" height="77" fill="#e8704f"/><rect x="512" y="514" width="9" height="75" fill="url(#glr489)"/><rect x="551" y="552" width="11" height="1" fill="#e8704f" opacity="0.22"/><rect x="551" y="553" width="11" height="37" fill="#e8704f"/><rect x="552" y="554" width="9" height="35" fill="url(#glr489)"/><rect x="591" y="554" width="11" height="1" fill="#e8704f" opacity="0.22"/><rect x="591" y="555" width="11" height="35" fill="#e8704f"/><rect x="592" y="556" width="9" height="33" fill="url(#glr489)"/><rect x="631" y="550" width="11" height="1" fill="#e8704f" opacity="0.22"/><rect x="631" y="551" width="11" height="39" fill="#e8704f"/><rect x="632" y="552" width="9" height="37" fill="url(#glr489)"/><rect x="671" y="556" width="11" height="1" fill="#e8704f" opacity="0.22"/><rect x="671" y="557" width="11" height="33" fill="#e8704f"/><rect x="672" y="558" width="9" height="31" fill="url(#glr489)"/><text x="774" y="482" font-size="12" text-anchor="start" class="tt">Profits and losses by months</text><rect x="770" y="501" width="306" height="2" fill="#d6d6d6"/><rect x="770" y="526" width="306" height="2" fill="#d6d6d6"/><rect x="770" y="551" width="306" height="2" fill="#d6d6d6"/><rect x="770" y="576" width="306" height="2" fill="#d6d6d6"/><rect x="770" y="489" width="306" height="1" fill="#a4a4a4"/><rect x="770" y="514" width="306" height="1" fill="#a4a4a4"/><rect x="770" y="539" width="306" height="1" fill="#a4a4a4"/><rect x="770" y="564" width="306" height="1" fill="#a4a4a4"/><rect x="770" y="589" width="306" height="1" fill="#a4a4a4"/><rect x="775" y="489" width="1" height="106" fill="#a4a4a4"/><rect x="800" y="590" width="1" height="5" fill="#a4a4a4"/><rect x="825" y="590" width="1" height="5" fill="#a4a4a4"/><rect x="850" y="590" width="1" height="5" fill="#a4a4a4"/><rect x="875" y="590" width="1" height="5" fill="#a4a4a4"/><rect x="900" y="590" width="1" height="5" fill="#a4a4a4"/><rect x="925" y="590" width="1" height="5" fill="#a4a4a4"/><rect x="950" y="590" width="1" height="5" fill="#a4a4a4"/><rect x="975" y="590" width="1" height="5" fill="#a4a4a4"/><rect x="1000" y="590" width="1" height="5" fill="#a4a4a4"/><rect x="1025" y="590" width="1" height="5" fill="#a4a4a4"/><rect x="1050" y="590" width="1" height="5" fill="#a4a4a4"/><rect x="1075" y="590" width="1" height="5" fill="#a4a4a4"/><text x="762.4" y="491" font-size="8.4" text-anchor="end" class="yl">3400</text><text x="762.4" y="516" font-size="8.4" text-anchor="end" class="yl">2550</text><text x="762.4" y="541" font-size="8.4" text-anchor="end" class="yl">1700</text><text x="763.4" y="566" font-size="8.4" text-anchor="end" class="yl">850</text><text x="765.4" y="591" font-size="8.4" text-anchor="end" class="yl">0</text><text x="781.5" y="601" font-size="8.4" text-anchor="start" class="yl">Jan</text><text x="806.5" y="601" font-size="8.4" text-anchor="start" class="yl">Feb</text><text x="831.5" y="601" font-size="8.4" text-anchor="start" class="yl">Mar</text><text x="856.5" y="601" font-size="8.4" text-anchor="start" class="yl">Apr</text><text x="881.5" y="601" font-size="8.4" text-anchor="start" class="yl">May</text><text x="906.5" y="601" font-size="8.4" text-anchor="start" class="yl">Jun</text><text x="931.5" y="601" font-size="8.4" text-anchor="start" class="yl">Jul</text><text x="956.5" y="601" font-size="8.4" text-anchor="start" class="yl">Aug</text><text x="981.5" y="601" font-size="8.4" text-anchor="start" class="yl">Sep</text><text x="1006.5" y="601" font-size="8.4" text-anchor="start" class="yl">Oct</text><text x="1031.5" y="601" font-size="8.4" text-anchor="start" class="yl">Nov</text><text x="1056.5" y="601" font-size="8.4" text-anchor="start" class="yl">Dec</text><rect x="781" y="489" width="7" height="1" fill="#6a92e2" opacity="0.22"/><rect x="781" y="490" width="7" height="100" fill="#6a92e2"/><rect x="782" y="491" width="5" height="98" fill="url(#gbl489)"/><rect x="806" y="519" width="7" height="1" fill="#6a92e2" opacity="0.22"/><rect x="806" y="520" width="7" height="70" fill="#6a92e2"/><rect x="807" y="521" width="5" height="68" fill="url(#gbl489)"/><rect x="831" y="495" width="7" height="1" fill="#6a92e2" opacity="0.22"/><rect x="831" y="496" width="7" height="94" fill="#6a92e2"/><rect x="832" y="497" width="5" height="92" fill="url(#gbl489)"/><rect x="856" y="513" width="7" height="1" fill="#6a92e2" opacity="0.22"/><rect x="856" y="514" width="7" height="76" fill="#6a92e2"/><rect x="857" y="515" width="5" height="74" fill="url(#gbl489)"/><rect x="881" y="521" width="7" height="1" fill="#6a92e2" opacity="0.22"/><rect x="881" y="522" width="7" height="68" fill="#6a92e2"/><rect x="882" y="523" width="5" height="66" fill="url(#gbl489)"/><rect x="906" y="503" width="7" height="1" fill="#6a92e2" opacity="0.22"/><rect x="906" y="504" width="7" height="86" fill="#6a92e2"/><rect x="907" y="505" width="5" height="84" fill="url(#gbl489)"/><rect x="788" y="514" width="7" height="1" fill="#e8704f" opacity="0.22"/><rect x="788" y="515" width="7" height="75" fill="#e8704f"/><rect x="789" y="516" width="5" height="73" fill="url(#glr489)"/><rect x="813" y="546" width="7" height="1" fill="#e8704f" opacity="0.22"/><rect x="813" y="547" width="7" height="43" fill="#e8704f"/><rect x="814" y="548" width="5" height="41" fill="url(#glr489)"/><rect x="838" y="522" width="7" height="1" fill="#e8704f" opacity="0.22"/><rect x="838" y="523" width="7" height="67" fill="#e8704f"/><rect x="839" y="524" width="5" height="65" fill="url(#glr489)"/><rect x="863" y="533" width="7" height="1" fill="#e8704f" opacity="0.22"/><rect x="863" y="534" width="7" height="56" fill="#e8704f"/><rect x="864" y="535" width="5" height="54" fill="url(#glr489)"/><rect x="888" y="542" width="7" height="1" fill="#e8704f" opacity="0.22"/><rect x="888" y="543" width="7" height="47" fill="#e8704f"/><rect x="889" y="544" width="5" height="45" fill="url(#glr489)"/><rect x="913" y="520" width="7" height="1" fill="#e8704f" opacity="0.22"/><rect x="913" y="521" width="7" height="69" fill="#e8704f"/><rect x="914" y="522" width="5" height="67" fill="url(#glr489)"/></svg><div class="box" style="left:289px;top:33px;width:69px;height:18px"></div><div class="box" style="left:289px;top:51px;width:69px;height:17px"></div><div class="box" style="left:289px;top:97px;width:68px;height:19px"></div><div class="box" style="left:666px;top:64px;width:50px;height:22px"></div><div id="sb"><div class="btn" style="top:0"><svg width="14" height="14" style="position:absolute;left:0;top:0"><path d="M6 5h1v1h-1zM5 6h3v1h-3zM4 7h5v1h-5zM3 8h7v1h-7z" fill="#000"/></svg></div><div class="btn" style="top:16px;height:307px"></div><div class="btn" style="top:615px"><svg width="14" height="14" style="position:absolute;left:0;top:0"><path d="M3 5h7v1h-7zM4 6h5v1h-5zM5 7h3v1h-3zM6 8h1v1h-1z" fill="#000"/></svg></div></div></body></html>
